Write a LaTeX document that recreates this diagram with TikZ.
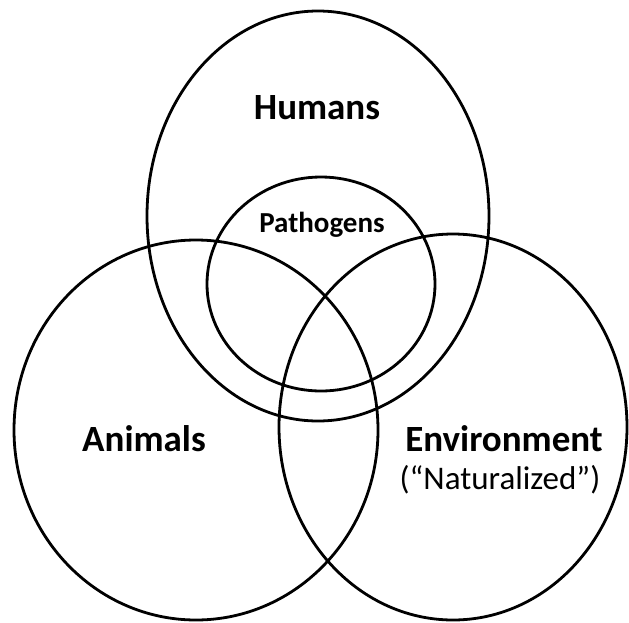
\documentclass[tikz,border=0pt]{standalone}
\usepackage{fontspec}
\setmainfont{Carlito}
\begin{document}
\begin{tikzpicture}[x=1pt,y=-1pt,
  ring/.style={draw=black,line width=2.8pt},
  bigtxt/.style={font=\bfseries\fontsize{37}{40}\selectfont,inner sep=0pt},
  smalltxt/.style={font=\bfseries\fontsize{29}{32}\selectfont,inner sep=0pt},
  subtxt/.style={font=\fontsize{33}{36}\selectfont,inner sep=0pt}]
\useasboundingbox[fill=white] (0,0) rectangle (629,622);
\draw[ring] (318,216) ellipse [x radius=171,y radius=205];
\draw[ring] (321,284) ellipse [x radius=114,y radius=107];
\draw[ring] (196,430) ellipse [x radius=182,y radius=190];
\draw[ring] (453,427) ellipse [x radius=174,y radius=193];
\node[bigtxt] (humans) at (317,108) {Humans};
\node[smalltxt] (path) at (322,225) {Pathogens};
\node[bigtxt] (animals) at (144,439) {Animals};
\node[bigtxt] (env) at (504,439) {Environment};
\node[subtxt] (nat) at (500,480) {(“Naturalized”)};
\end{tikzpicture}
\end{document}
